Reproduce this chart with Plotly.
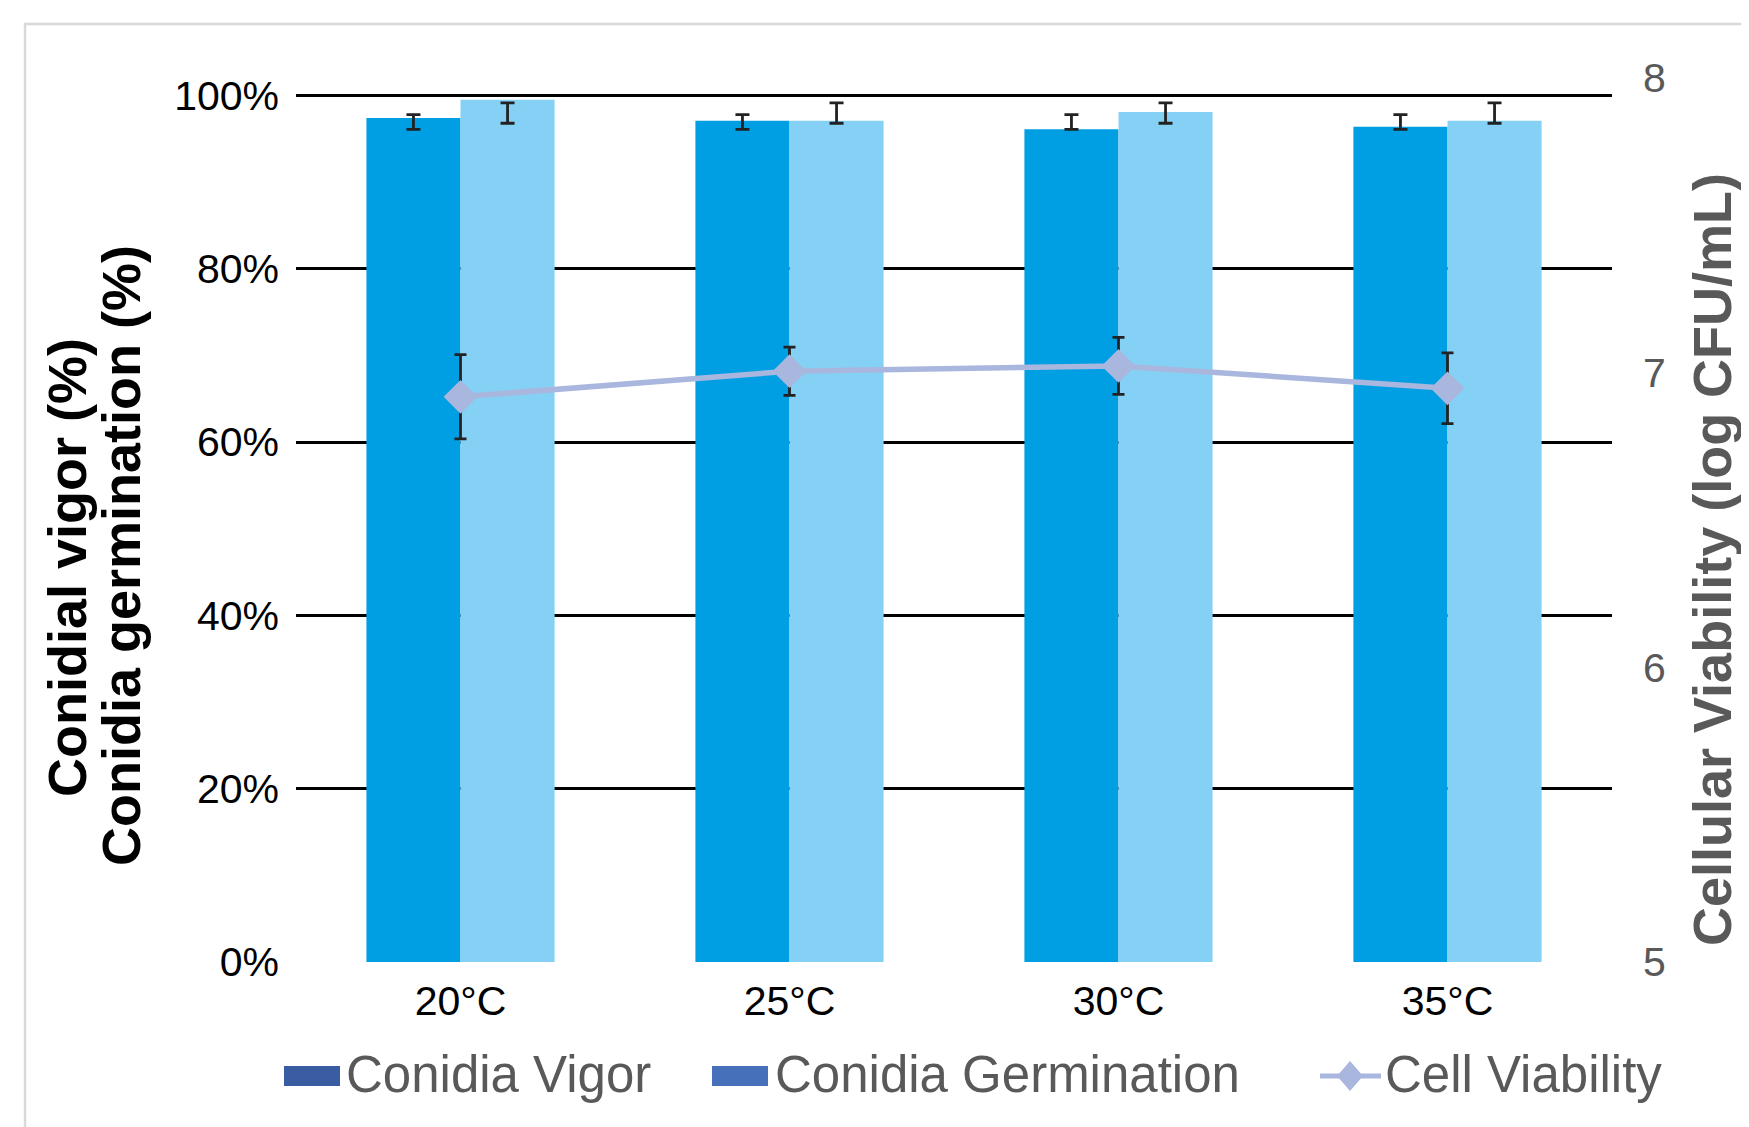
import numpy as np
import plotly.graph_objects as go

categories = ["20°C", "25°C", "30°C", "35°C"]
vigor = [0.974, 0.971, 0.961, 0.964]
germination = [0.995, 0.971, 0.981, 0.971]
vigor_err_center = [0.9695, 0.9695, 0.9695, 0.9695]
vigor_err = [0.0085, 0.0085, 0.0085, 0.0085]
germ_err_center = [0.9797, 0.9797, 0.9797, 0.9797]
germ_err = [0.0117, 0.0117, 0.0117, 0.0117]
viability = [6.918, 7.005, 7.023, 6.947]
viability_err = [0.143, 0.082, 0.097, 0.120]
left_ticks = [0, 0.2, 0.4, 0.6, 0.8, 1.0]
right_ticks = [5, 6, 7, 8]
legend_names = ["Conidia Vigor", "Conidia Germination", "Cell Viability"]

C_VIGOR = "#009FE3"
C_GERM = "#85D1F5"
C_LINE = "#A9B6DD"
C_ERR = "#222222"
C_LEG_VIGOR = "#3A5CA0"
C_LEG_GERM = "#4671BA"
FONT = "Liberation Sans"

# page has an 8px body margin; figure coords = page coords - 8
OFF = 8
W, H = 1749 - OFF, 1127 - OFF
L, T = 296 - OFF, 78 - OFF
R = W - (1612 - OFF)
B = H - (962 - OFF)
pw, ph = W - L - R, H - T - B


def px(x):
    return (x - OFF - L) / pw


def py(y):
    return (H - B - (y - OFF)) / ph


idx = np.arange(len(categories))
bw = 0.286

fig = go.Figure()
fig.add_trace(go.Bar(x=idx, y=vigor, offset=-bw, width=bw, name=legend_names[0],
                     marker=dict(color=C_VIGOR, line=dict(width=0)), showlegend=False, yaxis="y"))
fig.add_trace(go.Bar(x=idx, y=germination, offset=0, width=bw, name=legend_names[1],
                     marker=dict(color=C_GERM, line=dict(width=0)), showlegend=False, yaxis="y"))
fig.add_trace(go.Scatter(x=idx - bw / 2, y=vigor_err_center, mode="markers", marker=dict(size=1, opacity=0),
                         error_y=dict(type="data", array=vigor_err, color=C_ERR, thickness=2.8, width=7),
                         showlegend=False, hoverinfo="skip", yaxis="y"))
fig.add_trace(go.Scatter(x=idx + bw / 2, y=germ_err_center, mode="markers", marker=dict(size=1, opacity=0),
                         error_y=dict(type="data", array=germ_err, color=C_ERR, thickness=2.8, width=7),
                         showlegend=False, hoverinfo="skip", yaxis="y"))
fig.add_trace(go.Scatter(x=idx, y=viability, name=legend_names[2], mode="lines+markers", yaxis="y2",
                         line=dict(color=C_LINE, width=5.5),
                         marker=dict(symbol="diamond", size=26, color=C_LINE),
                         error_y=dict(type="data", array=viability_err, color=C_ERR, thickness=2.8, width=6),
                         showlegend=False))

fig.update_layout(
    width=W, height=H,
    margin=dict(l=L, r=R, t=T, b=B),
    paper_bgcolor="white", plot_bgcolor="white",
    barmode="overlay",
    font=dict(family=FONT, color="#000000"),
    xaxis=dict(range=[-0.5, 3.5], tickvals=idx, ticktext=categories, showgrid=False, zeroline=False,
               showline=False, ticks="", tickfont=dict(size=41, color="#000000"), ticklabelstandoff=11),
    yaxis=dict(range=[0, (962 - 78) / (962 - 95.5)], tickvals=left_ticks, tickformat=".0%",
               showgrid=True, gridcolor="#000000", gridwidth=2.5, zeroline=False, showline=False,
               ticks="", tickfont=dict(size=41, color="#000000"), ticklabelstandoff=16),
    yaxis2=dict(range=[5, 8], tickvals=right_ticks, overlaying="y", side="right", showgrid=False,
                zeroline=False, showline=False, ticks="", tickfont=dict(size=41, color="#595959"),
                ticklabelstandoff=30),
    showlegend=False,
)

# axis titles
fig.add_annotation(text="Conidial vigor (%)", xref="paper", yref="paper", x=px(67), y=py(568),
                   textangle=-90, showarrow=False, font=dict(size=54, color="#000000", family=FONT, weight="bold"),
                   xanchor="center", yanchor="middle")
fig.add_annotation(text="Conidia germination (%)", xref="paper", yref="paper", x=px(121), y=py(556),
                   textangle=-90, showarrow=False, font=dict(size=54, color="#000000", family=FONT, weight="bold"),
                   xanchor="center", yanchor="middle")
fig.add_annotation(text="Cellular Viability (log CFU/mL)", xref="paper", yref="paper", x=px(1712), y=py(560),
                   textangle=-90, showarrow=False, font=dict(size=54, color="#595959", family=FONT, weight="bold"),
                   xanchor="center", yanchor="middle")

# legend (drawn to match the reference's wide swatches)
LEG_Y = 1074
leg_font = dict(size=51, color="#595959", family=FONT)
fig.add_shape(type="rect", xref="paper", yref="paper", x0=px(284), x1=px(340), y0=py(1086), y1=py(1066),
              fillcolor=C_LEG_VIGOR, line=dict(width=0))
fig.add_annotation(text=legend_names[0], xref="paper", yref="paper", x=px(344), y=py(LEG_Y),
                   xanchor="left", yanchor="middle", showarrow=False, font=leg_font)
fig.add_shape(type="rect", xref="paper", yref="paper", x0=px(712), x1=px(768), y0=py(1086), y1=py(1066),
              fillcolor=C_LEG_GERM, line=dict(width=0))
fig.add_annotation(text=legend_names[1], xref="paper", yref="paper", x=px(773), y=py(LEG_Y),
                   xanchor="left", yanchor="middle", showarrow=False, font=leg_font)
fig.add_shape(type="line", xref="paper", yref="paper", x0=px(1320), x1=px(1381), y0=py(1076), y1=py(1076),
              line=dict(color=C_LINE, width=5))
dx0, dx1, dcx = px(1337), px(1363), px(1350)
dy0, dy1, dcy = py(1091), py(1061), py(1076)
fig.add_shape(type="path", xref="paper", yref="paper",
              path=f"M {dcx} {dy1} L {dx1} {dcy} L {dcx} {dy0} L {dx0} {dcy} Z",
              fillcolor=C_LINE, line=dict(width=0))
fig.add_annotation(text=legend_names[2], xref="paper", yref="paper", x=px(1383), y=py(LEG_Y),
                   xanchor="left", yanchor="middle", showarrow=False, font=leg_font)

# outer chart-area border
fig.add_shape(type="rect", xref="paper", yref="paper", x0=px(25), y0=py(1140), x1=px(1760), y1=py(24),
              line=dict(color="#D9D9D9", width=2.5), fillcolor="rgba(0,0,0,0)", layer="below")

fig.write_html("out.html")
